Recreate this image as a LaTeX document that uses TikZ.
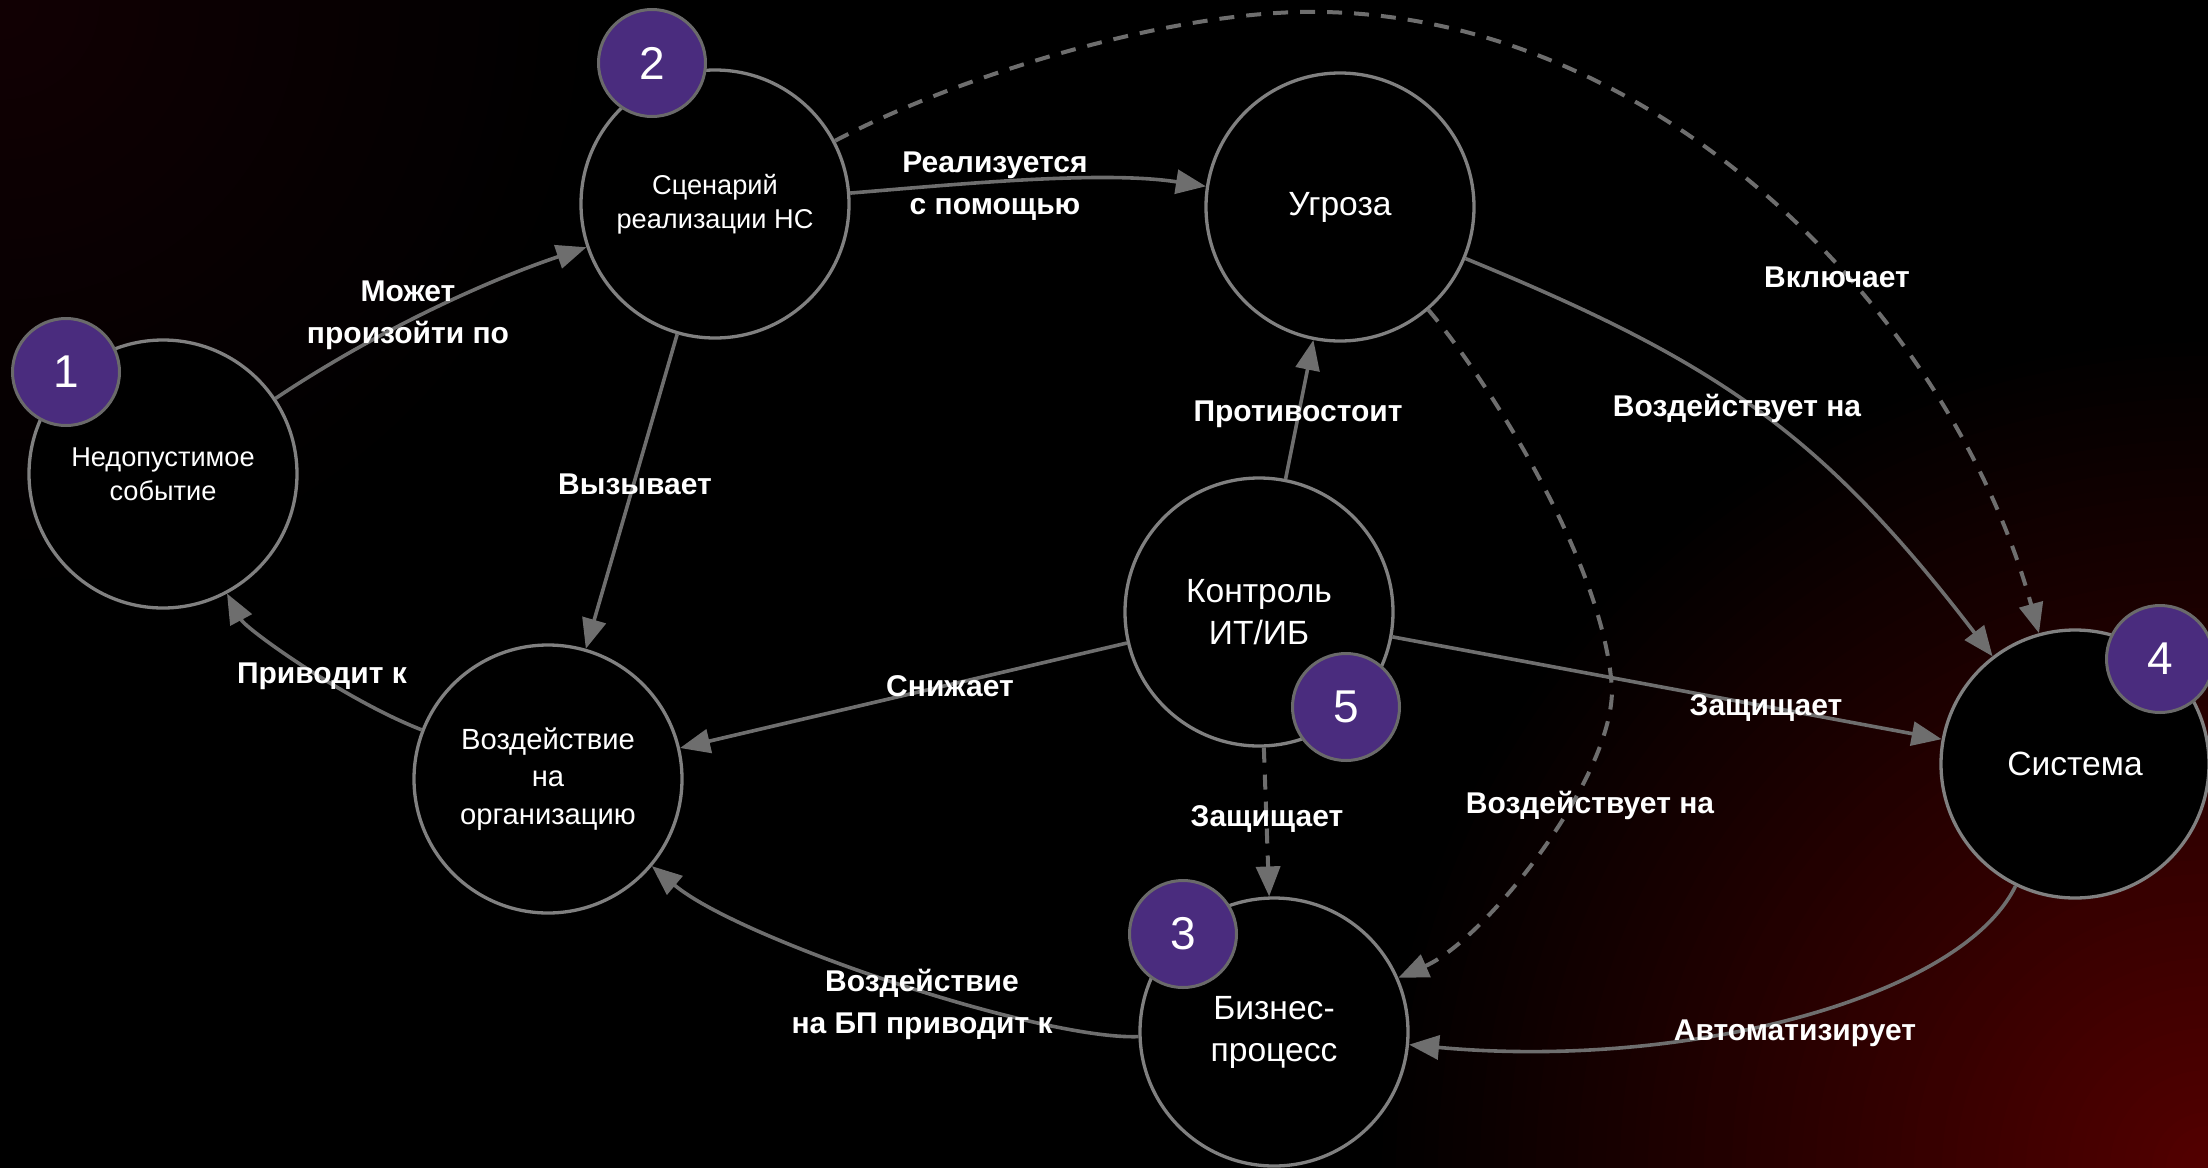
\documentclass[tikz,border=0pt]{standalone}
\usepackage{fontspec}
\setmainfont{Liberation Sans}
\usetikzlibrary{arrows.meta}
\definecolor{circlegray}{HTML}{808080}
\definecolor{edgegray}{HTML}{6E6E6E}
\definecolor{badgefill}{HTML}{4A2C7E}
\definecolor{badgeline}{HTML}{6A6A6A}
\definecolor{glowred}{HTML}{540000}
\definecolor{glowtl}{HTML}{120003}
\begin{document}
\begin{tikzpicture}[x=0.5pt,y=-0.5pt,
  bignode/.style={circle, draw=circlegray, line width=1.65pt, fill=black, minimum size=134pt, inner sep=0pt, text=white, align=center},
  badge/.style={circle, draw=badgeline, line width=1.5pt, fill=badgefill, minimum size=53.5pt, inner sep=0pt, text=white, font=\fontsize{23}{23}\selectfont},
  conn/.style={draw=edgegray, line width=1.8pt, -{Triangle[length=15pt,width=12pt]}},
  dconn/.style={conn, line width=2pt, dash pattern=on 7.5pt off 6pt},
  lbl/.style={text=white, font=\bfseries\fontsize{15}{21}\selectfont, align=center},
  bigtxt/.style={font=\fontsize{16.8}{21}\selectfont},
  smalltxt/.style={font=\fontsize{13.6}{17}\selectfont},
  midtxt/.style={font=\fontsize{14.6}{18.7}\selectfont}]
\useasboundingbox (0,0) rectangle (2208,1168);
\clip (0,0) rectangle (2208,1168);
% background
\fill[black] (0,0) rectangle (2208,1168);
\foreach \i in {60,59,...,1} {
  \pgfmathtruncatemacro\pc{100*(1-\i/60)}
  \fill[glowred!\pc!black] (2208,1168) circle [radius=\i*14];
}
\foreach \i in {30,29,...,1} {
  \pgfmathtruncatemacro\pc{100*(1-\i/30)}
  \fill[glowtl!\pc!black] (0,0) circle [radius=\i*20];
}
% main nodes
\node[bignode, smalltxt] (ne) at (163,474) {Недопустимое\\событие};
\node[bignode, smalltxt] (sc) at (715,204) {Сценарий\\реализации НС};
\node[bignode, bigtxt] (ug) at (1340,207) {Угроза};
\node[bignode, bigtxt] (ko) at (1259,612) {Контроль\\ИТ/ИБ};
\node[bignode, midtxt] (vo) at (548,779) {Воздействие\\на\\организацию};
\node[bignode, bigtxt] (bp) at (1274,1032) {Бизнес-\\процесс};
\node[bignode, bigtxt] (sy) at (2075,764) {Система};
% connectors
\draw[conn] (ne) .. controls (370,335) and (480,283) .. (sc);
\draw[conn] (sc) .. controls (950,185) and (1100,170) .. (ug);
\draw[conn] (sc) -- (vo);
\draw[conn] (vo) .. controls (345,700) and (246,629) .. (ne);
\draw[dconn] (sc) .. controls (960,75) and (1160,15) .. (1300,12) .. controls (1650,5) and (1950,310) .. (sy);
\draw[conn] (ug) .. controls (1715,361) and (1820,431) .. (sy);
\draw[dconn] (ug) .. controls (1480,370) and (1605,560) .. (1612,690) .. controls (1612,780) and (1485,940) .. (bp);
\draw[conn] (ko) -- (ug);
\draw[conn] (ko) -- (vo);
\draw[conn] (ko) -- (sy);
\draw[dconn] (ko) -- (bp);
\draw[conn] (bp) .. controls (1040,1040) and (740,940) .. (vo);
\draw[conn] (sy) .. controls (1960,1000) and (1680,1070) .. (bp);
% badges
\node[badge] (b1) at (66,372) {1};
\node[badge] (b2) at (652,63) {2};
\node[badge] (b3) at (1183,934) {3};
\node[badge] (b4) at (2160,659) {4};
\node[badge] (b5) at (1346,707) {5};
% labels
\node[lbl] (l1) at (408,315) {Может\\произойти по};
\node[lbl] (l2) at (995,186) {Реализуется\\с помощью};
\node[lbl] (l3) at (635,484) {Вызывает};
\node[lbl] (l4) at (322,676) {Приводит к};
\node[lbl] (l5) at (1837,277) {Включает};
\node[lbl] (l6) at (1737,408) {Воздействует на};
\node[lbl] (l7) at (1298,414) {Противостоит};
\node[lbl] (l8) at (950,686) {Снижает};
\node[lbl] (l9) at (1766,708) {Защищает};
\node[lbl] (l10) at (1267,819) {Защищает};
\node[lbl] (l11) at (1590,805) {Воздействует на};
\node[lbl] (l12) at (922,1004) {Воздействие\\на БП приводит к};
\node[lbl] (l13) at (1795,1033) {Автоматизирует};
\end{tikzpicture}
\end{document}
